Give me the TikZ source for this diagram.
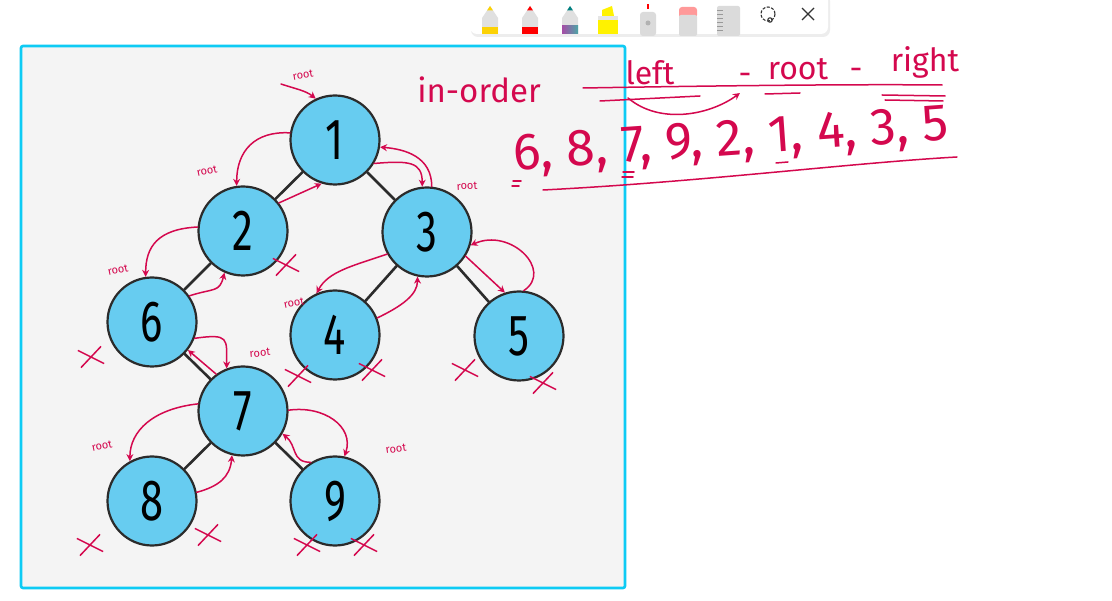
\documentclass[tikz,border=0pt]{standalone}
\usepackage{fontspec}
\usepackage{graphicx}
\setmainfont{Fira Sans}
\usetikzlibrary{arrows.meta,shapes.misc,calc}
\definecolor{ink}{HTML}{D4084E}
\definecolor{nodefill}{HTML}{67CCF0}
\definecolor{panel}{HTML}{F4F4F4}
\definecolor{frame}{HTML}{0ECBF4}
\definecolor{edgec}{HTML}{2B2B2B}
\newcommand{\tdig}[1]{\scalebox{0.72}[1]{#1}}
\tikzset{
 tnode/.style={circle, draw=edgec, line width=2.2pt, fill=nodefill, minimum size=89pt, inner sep=0pt, font=\fontsize{58}{58}\selectfont},
 tedge/.style={draw=edgec, line width=2.6pt, line cap=round},
 ra/.style={draw=ink, line width=1.5pt, line cap=round, -{Stealth[length=7pt,width=7pt,open]}},
 rline/.style={draw=ink, line width=1.5pt, line cap=round},
 rl/.style={text=ink, font=\fontsize{11}{11}\selectfont, inner sep=1pt},
 xmark/.style={cross out, draw=ink, line width=1.5pt, minimum width=22pt, minimum height=16pt, inner sep=0pt},
 htext/.style={text=ink, inner sep=0pt},
}
\begin{document}
\begin{tikzpicture}[x=1pt,y=-1pt]
\useasboundingbox (0,0) rectangle (1112,601);
\fill[white] (0,0) rectangle (1112,601);

% toolbar
\fill[black!7,rounded corners=7pt] (471,-6) rectangle (830,37);
\fill[white,rounded corners=7pt] (470,-8) rectangle (828,34);
% pen 1 yellow
\fill[black!12] (482,18) -- (490,6) -- (498,18) -- (498,34) -- (482,34) -- cycle;
\fill[yellow!70!orange] (487,10.5) -- (490,6) -- (493,10.5) -- cycle;
\fill[yellow!70!orange] (482,27) rectangle (498,34);
% pen 2 red
\fill[black!12] (522,18) -- (530,6) -- (538,18) -- (538,34) -- (522,34) -- cycle;
\fill[red] (527,10.5) -- (530,6) -- (533,10.5) -- cycle;
\fill[red] (522,27) rectangle (538,34);
% pen 3 galaxy
\fill[black!12] (562,18) -- (570,6) -- (578,18) -- (578,34) -- (562,34) -- cycle;
\fill[teal] (567,10.5) -- (570,6) -- (573,10.5) -- cycle;
\shade[left color=violet!70, right color=teal!70] (562,26) rectangle (578,34);
% highlighter
\fill[yellow] (602,10) -- (612,6) -- (614,16) -- (602,16) -- cycle;
\fill[yellow] (598,18) rectangle (618,34);
\fill[black!10] (598,16) rectangle (618,20);
% spray
\fill[red] (647,4) rectangle (649,9);
\fill[black!14,rounded corners=3pt] (640,12) rectangle (656,36);
\fill[black!30] (648,23) circle (2.5);
% eraser
\fill[red!40,rounded corners=3pt] (679,7) rectangle (697,18);
\fill[black!14,rounded corners=2pt] (679,15) rectangle (697,36);
% ruler
\fill[black!14,rounded corners=2pt] (717,6) rectangle (740,36);
\foreach \yy in {10,14,18,22,26,30} {\draw[black!40,line width=0.6pt] (717,\yy) -- (723,\yy);}
% lasso
\draw[black!80,line width=1.1pt,dash pattern=on 3pt off 1.5pt] (768,14) circle (7);
\draw[black!80,line width=1.1pt] (770,20) circle (2.2);
% close
\draw[black!80,line width=1.2pt] (802,8) -- (814,20) (814,8) -- (802,20);

% panel
\draw[frame, line width=2.6pt, fill=panel, rounded corners=2pt] (21,46) rectangle (625,588);

% tree nodes
\node[tnode] (n1) at (335,140) {\tdig{1}};
\node[tnode] (n2) at (243,231) {\tdig{2}};
\node[tnode] (n3) at (427,232) {\tdig{3}};
\node[tnode] (n6) at (152,322) {\tdig{6}};
\node[tnode] (n4) at (335,335) {\tdig{4}};
\node[tnode] (n5) at (519,336) {\tdig{5}};
\node[tnode] (n7) at (243,411) {\tdig{7}};
\node[tnode] (n8) at (152,501) {\tdig{8}};
\node[tnode] (n9) at (335,501) {\tdig{9}};

% tree edges
\draw[tedge] (n1) -- (n2);
\draw[tedge] (n1) -- (n3);
\draw[tedge] (n2) -- (n6);
\draw[tedge] (n3) -- (n4);
\draw[tedge] (n3) -- (n5);
\draw[tedge] (n6) -- (n7);
\draw[tedge] (n7) -- (n8);
\draw[tedge] (n7) -- (n9);

% root labels
\node[rl, rotate=10] (lb1) at (303,75) {root};
\node[rl, rotate=12] (lb2) at (207,171) {root};
\node[rl, rotate=3] (lb3) at (467,186) {root};
\node[rl, rotate=12] (lb6) at (118,270) {root};
\node[rl, rotate=12] (lb4) at (294,303) {root};
\node[rl, rotate=5] (lb7) at (260,353) {root};
\node[rl, rotate=12] (lb8) at (102,446) {root};
\node[rl, rotate=8] (lb9) at (396,449) {root};

% traversal arrows
\coordinate (r1s) at (281,84);
\draw[ra] (r1s) .. controls +(15,5) and +(-10,-8) .. (n1.115);
\draw[ra] (n1.171) .. controls +(-35,-2) and +(0,-35) .. (n2.98);
\draw[ra] (n2.38) -- (n1.253);
\draw[ra] (n2.175) .. controls +(-40,2) and +(0,-30) .. (n6.98);
\draw[ra] (n6.35) .. controls +(25,-8) and +(-5,20) .. (n2.246);
\draw[ra] (n1.329) .. controls +(35,-3) and +(0,-25) .. (n3.96);
\draw[ra] (n3.84) .. controls +(0,-30) and +(25,2) .. (n1.351);
\draw[ra] (n3.209) .. controls +(-35,12) and +(12,-22) .. (n4.114);
\draw[ra] (n4.22) .. controls +(25,-12) and +(0,18) .. (n3.258);
\draw[ra] (n3.328) -- (n5.108);
\draw[ra] (n5.84) .. controls +(30,-20) and +(40,-18) .. (n3.343);
\draw[ra] (n6.339) .. controls +(35,-5) and +(0,-30) .. (n7.111);
\draw[ra] (n7.126) -- (n6.322);
\draw[ra] (n7.171) .. controls +(-45,5) and +(0,-30) .. (n8.119);
\draw[ra] (n8.11) .. controls +(22,-6) and +(-2,22) .. (n7.256);
\draw[ra] (n7.1) .. controls +(35,-5) and +(10,-30) .. (n9.78);
\draw[ra] (n9.122) .. controls +(-20,0) and +(15,12) .. (n7.330);

% null markers
\node[xmark, rotate=10] (x2r) at (286,265) {};
\node[xmark, rotate=10] (x6l) at (91,357) {};
\node[xmark, rotate=10] (x4l) at (298,376) {};
\node[xmark, rotate=10] (x4r) at (372,370) {};
\node[xmark, rotate=10] (x5l) at (465,370) {};
\node[xmark, rotate=10] (x5r) at (543,383) {};
\node[xmark, rotate=10] (x8l) at (90,545) {};
\node[xmark, rotate=10] (x8r) at (208,535) {};
\node[xmark, rotate=10] (x9l) at (307,545) {};
\node[xmark, rotate=10] (x9r) at (364,545) {};

% heading
\node[htext, font=\fontsize{33}{33}\selectfont, anchor=base] (ino) at (479,103) {in-order};
\node[htext, font=\fontsize{32}{32}\selectfont, anchor=base] (wl) at (650,85) {left};
\node[htext, font=\fontsize{32}{32}\selectfont, anchor=base] (d1) at (745,85) {-};
\node[htext, font=\fontsize{32}{32}\selectfont, anchor=base] (wr) at (798,80) {root};
\node[htext, font=\fontsize{32}{32}\selectfont, anchor=base] (d2) at (856,80) {-};
\node[htext, font=\fontsize{32}{32}\selectfont, anchor=base] (wg) at (925,72) {right};
\draw[rline] (583,88) .. controls (700,86) and (850,84) .. (942,85);
\draw[rline] (600,101) -- (700,96);
\draw[rline] (765,94) -- (800,93);
\draw[rline] (882,95) -- (945,96) (885,100) -- (943,101);
\draw[ra] (628,98) .. controls (660,125) and (710,115) .. (740,93);

% sequence
\node[htext, font=\fontsize{52}{52}\selectfont, anchor=base, rotate=4] (seq) at (732,155) {6, 8, 7, 9, 2, 1, 4, 3, 5};
\draw[rline] (513,181) -- (521,181) (512,186) -- (519,186);
\draw[rline] (623,172) -- (634,172) (622,177) -- (633,177);
\draw[rline] (776,163) -- (788,162);
\draw[rline] (543,190) .. controls (700,182) and (850,163) .. (957,157);
\end{tikzpicture}
\end{document}
